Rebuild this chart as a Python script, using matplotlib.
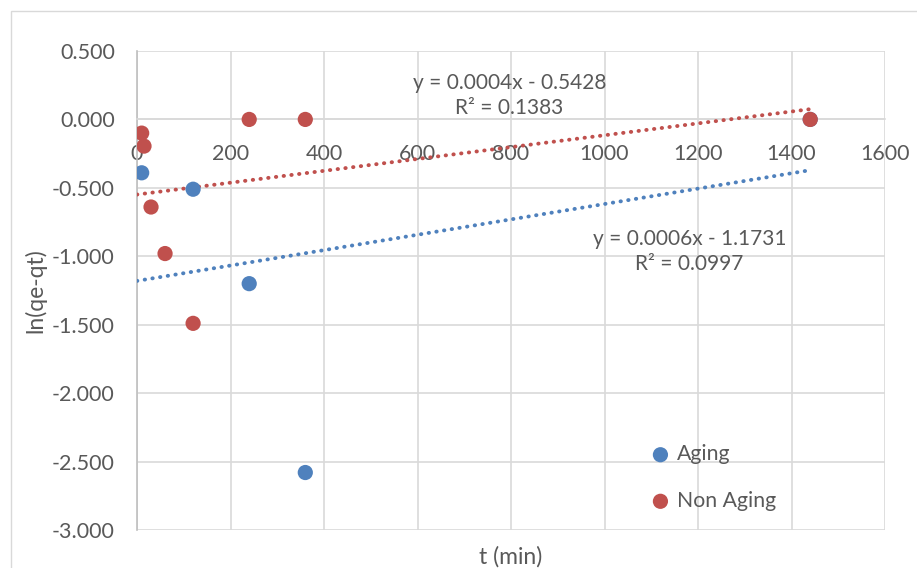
import numpy as np
import matplotlib
matplotlib.use('Agg')
import matplotlib.pyplot as plt

# data
t_aging = [10, 120, 240, 360, 1440]
ln_aging = [-0.39, -0.51, -1.20, -2.58, 0.0]
t_non = [10, 15, 30, 60, 120, 240, 360, 1440]
ln_non = [-0.10, -0.195, -0.64, -0.98, -1.49, 0.0, 0.0, 0.0]

eq_aging = "y = 0.0006x - 1.1731\nR² = 0.0997"
eq_non = "y = 0.0004x - 0.5428\nR² = 0.1383"

blue = '#4f81bd'
red = '#c0504d'
txt = '#595959'

plt.rcParams['font.family'] = ['Lato', 'DejaVu Sans']

fig = plt.figure(figsize=(9.17, 5.68), dpi=100)
ax = fig.add_axes([137/917, 1 - 530/568, (885-137)/917, (530-51)/568])

# chart area border
fig.patches.append(plt.Rectangle((11/917, -0.01), 1.0, 1 - 11/568 + 0.01, transform=fig.transFigure,
                                 fill=False, edgecolor='#d9d9d9', linewidth=1))

ax.scatter(t_aging, ln_aging, s=120, color=blue, zorder=4, label='Aging', edgecolors='none')
ax.scatter(t_non, ln_non, s=120, color=red, zorder=4, label='Non Aging', edgecolors='none')

# linear trendlines
xs = np.array([0, 1440])
pa = np.polyfit(t_aging, ln_aging, 1)
pn = np.polyfit(t_non, ln_non, 1)
ax.plot(xs, np.polyval(pa, xs), color=blue, linestyle=(0, (0.1, 1.9)), linewidth=2.8,
        dash_capstyle='round', zorder=3)
ax.plot(xs, np.polyval(pn, xs), color=red, linestyle=(0, (0.1, 1.9)), linewidth=2.8,
        dash_capstyle='round', zorder=3)

ax.text(797, 0.34, eq_non, ha='center', va='top', fontsize=15, color=txt, linespacing=1.3)
ax.text(1182, -0.80, eq_aging, ha='center', va='top', fontsize=15, color=txt, linespacing=1.3)

ax.set_xlim(0, 1600)
ax.set_ylim(-3, 0.5)
ax.set_xticks(np.arange(0, 1601, 200))
ax.set_yticks(np.arange(-3, 0.51, 0.5))
ax.set_yticklabels(['%.3f' % v for v in np.arange(-3, 0.51, 0.5)])
ax.grid(True, color='#d9d9d9', linewidth=1.2, zorder=0)
ax.set_axisbelow(True)
for s in ['top', 'right']:
    ax.spines[s].set_visible(False)
# x axis crosses at y = 0
ax.spines['bottom'].set_position(('data', 0))
ax.spines['bottom'].set_color('#d9d9d9')
ax.spines['bottom'].set_linewidth(1.2)
ax.spines['left'].set_color('#bfbfbf')
ax.spines['left'].set_linewidth(1.2)
ax.spines['left'].set_zorder(1)

ax.tick_params(axis='both', length=0, colors=txt, labelsize=15.5)
ax.tick_params(axis='x', pad=18)
ax.tick_params(axis='y', pad=16)

ax.text(0.5, -0.055, 't (min)', transform=ax.transAxes, ha='center', va='center',
        fontsize=16.5, color=txt)
ax.set_ylabel('ln(qe-qt)', fontsize=16.5, color=txt, labelpad=4)

ax.legend(loc='lower left', bbox_to_anchor=(0.66, 0.0), frameon=False, fontsize=15.3,
          labelcolor=txt, handlelength=1.0, handletextpad=0.3, labelspacing=1.25,
          markerscale=1.0)

fig.savefig('out.png', dpi=100)
